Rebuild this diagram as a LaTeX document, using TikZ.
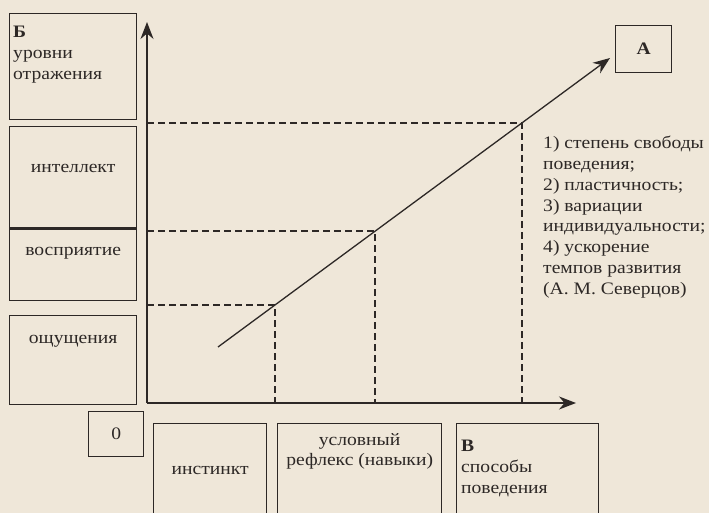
\documentclass[tikz,border=0pt]{standalone}
\usepackage{fontspec}
\setmainfont[FakeStretch=1.12]{Liberation Serif}
\usetikzlibrary{arrows.meta}
\usetikzlibrary{positioning}
\definecolor{paper}{RGB}{239,231,217}
\definecolor{ink}{RGB}{45,40,38}
\tikzset{
	box/.style={draw=ink, line width=1.3pt, inner sep=0pt, anchor=north west},
	guide/.style={draw=ink, line width=1.2pt, dash pattern=on 7pt off 4pt},
	axis/.style={draw=ink, line width=1.3pt},
	caption/.style={text=ink, font=\fontsize{17.5}{20.8}\selectfont, inner sep=0pt, align=left}
}
\begin{document}
\begin{tikzpicture}[x=1pt,y=-1pt,>={Stealth[length=17pt,width=13pt]}]
	\fill[paper] (0,0) rectangle (709,513);
	\useasboundingbox (0,0) rectangle (709,513);
	% levels of reflection
	\node[box, minimum width=127pt, minimum height=106pt] (levels) at (9,13) {};
	\node[box, minimum width=127pt, minimum height=102pt] (intellect) at (9,126) {};
	\node[box, minimum width=127pt, minimum height=72pt] (percept) at (9,228) {};
	\node[box, minimum width=127pt, minimum height=89pt] (sensation) at (9,315) {};
	\draw[ink, line width=3pt] (percept.north west) -- (percept.north east);
	\node[caption, below right=13pt and 4pt of levels.north west] (levelstext) {\textbf{Б}\\уровни\\отражения};
	\node[caption] (intellecttext) at ([yshift=9pt]intellect.center) {интеллект};
	\node[caption] (percepttext) at ([yshift=11pt]percept.center) {восприятие};
	\node[caption] (sensationtext) at ([yshift=19pt]sensation.center) {ощущения};
	% ways of behaviour
	\node[box, minimum width=55pt, minimum height=45pt] (zero) at (88,411) {};
	\node[caption] (zerotext) at (zero.center) {0};
	\node[box, minimum width=113pt, minimum height=93pt] (instinct) at (153,423) {};
	\node[box, minimum width=164pt, minimum height=93pt] (reflex) at (277,423) {};
	\node[box, minimum width=142pt, minimum height=93pt] (ways) at (456,423) {};
	\node[caption] (instincttext) at ([yshift=-47pt]instinct.north) {инстинкт};
	\node[caption, align=center, below=10pt of reflex.north] (reflextext) {условный\\рефлекс (навыки)};
	\node[caption, below right=17pt and 5pt of ways.north west] (waystext) {\textbf{В}\\способы\\поведения};
	% axes
	\coordinate (O) at (147,403);
	\coordinate (ytip) at (147,22);
	\coordinate (xtip) at (576,403);
	\draw[axis,->] (O) -- (ytip);
	\draw[axis,->] (O) -- (xtip);
	% development line
	\node[box, minimum width=56pt, minimum height=47pt] (A) at (615,25) {};
	\node[caption] (Atext) at (A.center) {\textbf{А}};
	\coordinate (s) at (218,347);
	\coordinate (tipA) at (610,58);
	\coordinate (p1) at (275,305);
	\coordinate (p2) at (375,231);
	\coordinate (p3) at (522,123);
	\draw[axis,->] (s) -- (tipA);
	\foreach \p in {p1,p2,p3}
		\draw[guide] (O |- \p) -- (\p) -- (\p |- O);
	\node[caption, anchor=north west] (criteria) at (543,136) {1) степень свободы\\поведения;\\2) пластичность;\\3) вариации\\индивидуальности;\\4) ускорение\\темпов развития\\(А. М. Северцов)};
\end{tikzpicture}
\end{document}
